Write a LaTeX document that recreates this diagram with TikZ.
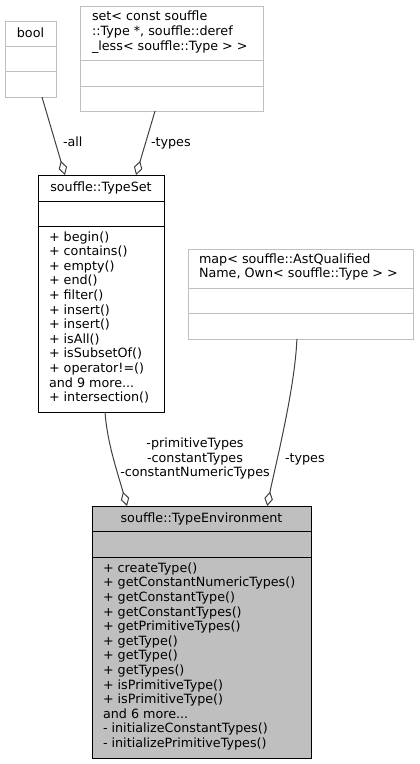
\documentclass[tikz,border=0pt]{standalone}
\usepackage{fontspec}
\setmainfont{DejaVu Sans}
\usetikzlibrary{arrows.meta,calc}
\definecolor{edgegray}{HTML}{404040}
\definecolor{framegray}{HTML}{BFBFBF}
\definecolor{mainfill}{HTML}{BFBFBF}
\newcommand\etcdots{...}

\begin{document}
\begin{tikzpicture}[x=0.75pt,y=-0.75pt,
  every node/.style={inner sep=0pt, outer sep=0pt, font=\fontsize{9.55}{10.95}\selectfont},
  classbox/.style n args={2}{rectangle, anchor=north west, line width=0.75pt,
    minimum width={#1*0.75pt}, minimum height={#2*0.75pt}},
  plainbox/.style={draw=framegray, fill=white},
  docbox/.style={draw=black, fill=white},
  mainbox/.style={draw=black, fill=mainfill},
  sep/.style={line width=0.75pt},
  txt/.style={anchor=base west, text=black},
  ctxt/.style={anchor=base, text=black},
  lbl/.style={anchor=base west, text=black},
  edge/.style={draw=edgegray, line width=0.75pt,
    -{Diamond[length=11pt, width=6.5pt, fill=white]}}
]
\useasboundingbox (0,0) rectangle (419,764);

% bool
\node[classbox={51}{76}, plainbox] (bool) at (5,21) {};
\draw[framegray, sep] (5,46) -- (56,46) (5,71) -- (56,71);
\node[ctxt] (bool-name) at (30.5,37.5) {bool};

% set< const souffle::Type *, ... >
\node[classbox={183}{105}, plainbox] (set) at (80,6) {};
\draw[framegray, sep] (80,60) -- (263,60) (80,86) -- (263,86);
\foreach \t [count=\i] in {set< const souffle, {::Type *, souffle::deref}, \_less< souffle::Type > >}
  \node[txt] (set-l\i) at ({92}, {20.8+14.6*(\i-1)}) {\t};

% map< souffle::AstQualifiedName, ... >
\node[classbox={225}{90}, plainbox] (map) at (188,249) {};
\draw[framegray, sep] (188,288) -- (413,288) (188,313) -- (413,313);
\foreach \t [count=\i] in {map< souffle::AstQualified, {Name, Own< souffle::Type > >}}
  \node[txt] (map-l\i) at ({199}, {263.3+14.6*(\i-1)}) {\t};

% souffle::TypeSet
\node[classbox={126}{237}, docbox] (typeset) at (38,175) {};
\draw[sep] (38,201) -- (164,201) (38,226) -- (164,226);
\node[ctxt] (typeset-name) at (101,191.8) {souffle::TypeSet};
\foreach \t [count=\i] in {+ begin(), + contains(), + empty(), + end(), + filter(),
    + insert(), + insert(), + isAll(), + isSubsetOf(), + operator!=(),
    and 9 more\etcdots, + intersection()}
  \node[txt] (typeset-m\i) at ({49}, {241+14.6*(\i-1)}) {\t};

% souffle::TypeEnvironment
\node[classbox={219}{252}, mainbox] (typeenv) at (92,506) {};
\draw[sep] (92,531) -- (311,531) (92,557) -- (311,557);
\node[ctxt] (typeenv-name) at (201.5,522.5) {souffle::TypeEnvironment};
\foreach \t [count=\i] in {+ createType(), + getConstantNumericTypes(), + getConstantType(),
    + getConstantTypes(), + getPrimitiveTypes(), + getType(), + getType(), + getTypes(),
    + isPrimitiveType(), + isPrimitiveType(), and 6 more\etcdots, - initializeConstantTypes(),
    - initializePrimitiveTypes()}
  \node[txt] (typeenv-m\i) at ({103}, {572.3+14.6*(\i-1)}) {\t};

% associations
\draw[edge] ($(bool.south west)!0.725!(bool.south east)$)
  -- ($(typeset.north west)!0.214!(typeset.north east)$);
\draw[edge] ($(set.south west)!0.41!(set.south east)$)
  -- ($(typeset.north west)!0.778!(typeset.north east)$);
\draw[edge] ($(typeset.south west)!0.532!(typeset.south east)$)
  .. controls +(2,30) and +(-10,-35) .. ($(typeenv.north west)!0.16!(typeenv.north east)$);
\draw[edge] ($(map.south west)!0.484!(map.south east)$)
  .. controls +(-2,50) and +(8,-40) .. ($(typeenv.north west)!0.80!(typeenv.north east)$);

% role labels
\node[lbl] (lbl-all) at (63,146) {-all};
\node[lbl] (lbl-settypes) at (151,146) {-types};
\foreach \t [count=\i] in {-primitiveTypes, -constantTypes, -constantNumericTypes}
  \node[ctxt] (lbl-members\i) at ({195}, {447.5+14.5*(\i-1)}) {\t};
\node[lbl] (lbl-maptypes) at (285,462) {-types};
\end{tikzpicture}
\end{document}
